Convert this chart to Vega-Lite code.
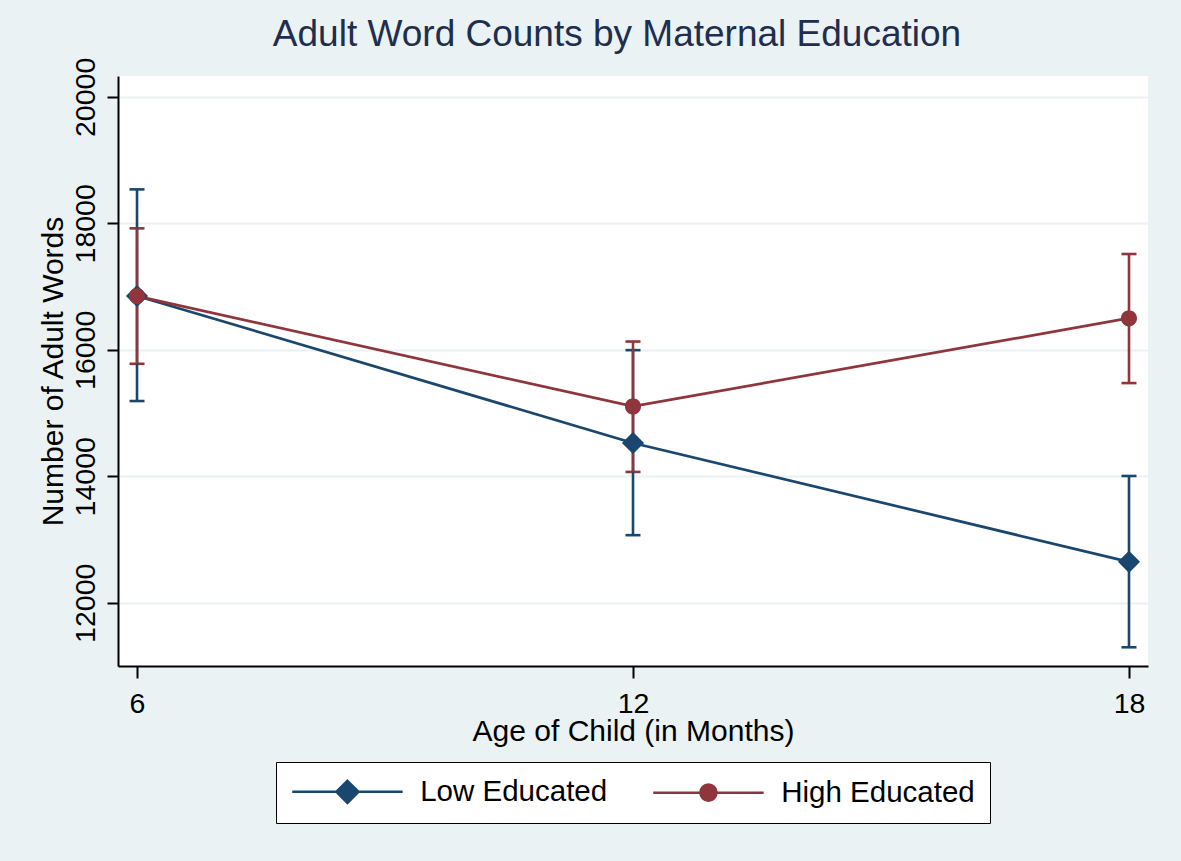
{
  "$schema": "https://vega.github.io/schema/vega-lite/v6.json",
  "autosize": "none",
  "width": 1030,
  "height": 590,
  "padding": {"left": 118, "top": 76, "right": 33, "bottom": 195},
  "background": "#eaf2f3",
  "title": {
    "text": "Adult Word Counts by Maternal Education",
    "font": "Liberation Sans",
    "fontSize": 37,
    "fontWeight": "normal",
    "color": "#1f2d4e",
    "anchor": "middle",
    "frame": "group",
    "baseline": "alphabetic",
    "offset": 29,
    "dy": 55,
    "dx": -16
  },
  "data": {
    "values": [
      {"group": "Low Educated", "age": 6, "mean": 16852, "lo": 15190, "hi": 18537},
      {"group": "Low Educated", "age": 12, "mean": 14527, "lo": 13069, "hi": 15995},
      {"group": "Low Educated", "age": 18, "mean": 12647, "lo": 11296, "hi": 14005},
      {"group": "High Educated", "age": 6, "mean": 16850, "lo": 15779, "hi": 17921},
      {"group": "High Educated", "age": 12, "mean": 15105, "lo": 14069, "hi": 16131},
      {"group": "High Educated", "age": 18, "mean": 16500, "lo": 15474, "hi": 17515}
    ]
  },
  "encoding": {
    "x": {
      "field": "age",
      "type": "quantitative",
      "scale": {"domain": [5.77, 18.23], "nice": false, "zero": false},
      "axis": {
        "values": [6, 12, 18],
        "grid": false,
        "title": "Age of Child (in Months)",
        "domainColor": "black",
        "domainWidth": 2,
        "tickColor": "black",
        "tickWidth": 2,
        "tickSize": 12,
        "labelFont": "Liberation Sans",
        "labelFontSize": 28.5,
        "labelColor": "black",
        "labelBaseline": "alphabetic",
        "labelPadding": 34,
        "labelFlush": false,
        "labelOverlap": false,
        "titleFont": "Liberation Sans",
        "titleFontSize": 30,
        "titleFontWeight": "normal",
        "titleColor": "black",
        "titleBaseline": "alphabetic",
        "titlePadding": 23
      }
    },
    "y": {
      "field": "mean",
      "type": "quantitative",
      "scale": {"domain": [11000, 20330], "nice": false, "zero": false},
      "axis": {
        "values": [12000, 14000, 16000, 18000, 20000],
        "grid": true,
        "gridColor": "#eaf2f3",
        "gridWidth": 2,
        "title": "Number of Adult Words",
        "format": "d",
        "domainColor": "black",
        "domainWidth": 2,
        "tickColor": "black",
        "tickWidth": 2,
        "tickSize": 11,
        "labelFont": "Liberation Sans",
        "labelFontSize": 28.5,
        "labelColor": "black",
        "labelAngle": -90,
        "labelAlign": "center",
        "labelBaseline": "alphabetic",
        "labelPadding": 13,
        "labelFlush": false,
        "labelOverlap": false,
        "titleFont": "Liberation Sans",
        "titleFontSize": 30,
        "titleFontWeight": "normal",
        "titleColor": "black",
        "titleBaseline": "alphabetic",
        "titlePadding": 9
      }
    },
    "color": {
      "field": "group",
      "type": "nominal",
      "scale": {"domain": ["Low Educated", "High Educated"], "range": ["#1a476f", "#90353b"]},
      "legend": {
        "orient": "bottom",
        "direction": "horizontal",
        "title": null,
        "labelFont": "Liberation Sans",
        "labelFontSize": 29.5,
        "labelColor": "black",
        "labelLimit": 500,
        "symbolSize": 576,
        "symbolStrokeWidth": 2.5,
        "symbolOpacity": 1,
        "symbolOffset": 41.7,
        "labelOffset": 58,
        "columnPadding": 40,
        "padding": 15,
        "offset": 15,
        "strokeColor": "black",
        "fillColor": "white"
      }
    }
  },
  "layer": [
    {
      "mark": {
        "type": "errorbar",
        "ticks": {"size": 15, "thickness": 2.6, "opacity": 1},
        "rule": {"strokeWidth": 2.6, "opacity": 1}
      },
      "encoding": {
        "y": {"field": "lo", "type": "quantitative"},
        "y2": {"field": "hi"}
      }
    },
    {
      "mark": {"type": "line", "strokeWidth": 2.7}
    },
    {
      "mark": {"type": "point", "filled": true, "opacity": 1, "size": 576},
      "encoding": {
        "shape": {
          "field": "group",
          "type": "nominal",
          "scale": {
            "domain": ["Low Educated", "High Educated"],
            "range": [
              "M-4.6,0H4.6M0,-0.92L0.92,0L0,0.92L-0.92,0Z",
              "M-4.6,0H4.6M0.67,0A0.67,0.67 0 1,1 -0.67,0A0.67,0.67 0 1,1 0.67,0Z"
            ]
          },
          "legend": {"title": null}
        }
      }
    }
  ],
  "config": {
    "view": {"fill": "white", "stroke": null},
    "legend": {"layout": {"bottom": {"anchor": "middle"}}}
  }
}
